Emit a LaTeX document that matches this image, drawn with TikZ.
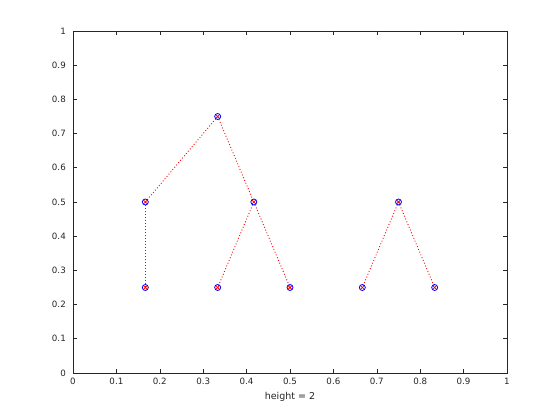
\documentclass[tikz,border=0pt]{standalone}
\usepackage{fontspec}
\setmainfont{DejaVu Sans}
\begin{document}
\begin{tikzpicture}[x=434pt,y=342pt,
  axisline/.style={draw=axgray,line width=0.6pt},
  ticklbl/.style={text=axgray,font=\fontsize{8.7}{10}\selectfont,inner sep=0pt},
  edge/.style={draw=red,line width=0.9pt,dash pattern=on 0.9pt off 2.1pt},
  treenode/.style={circle,draw=blue,line width=0.8pt,minimum size=6pt,inner sep=0pt,
    path picture={\draw[red,line width=0.8pt] ([xshift=-2pt,yshift=-2pt]path picture bounding box.center) -- ([xshift=2pt,yshift=2pt]path picture bounding box.center)
      ([xshift=-2pt,yshift=2pt]path picture bounding box.center) -- ([xshift=2pt,yshift=-2pt]path picture bounding box.center);}}]
\definecolor{axgray}{RGB}{38,38,38}
\useasboundingbox[fill=white] (-73pt,-47pt) rectangle (487pt,373pt);
% axes box
\draw[axisline] (0,0) rectangle (1,1);
% ticks
\foreach \v in {0,0.1,...,1.01} {
  \draw[axisline] (\v,0) -- ++(0,4.3pt);
  \draw[axisline] (\v,1) -- ++(0,-4.3pt);
  \draw[axisline] (0,\v) -- ++(4.3pt,0);
  \draw[axisline] (1,\v) -- ++(-4.3pt,0);
}
\foreach \v/\t in {0/0,0.1/0.1,0.2/0.2,0.3/0.3,0.4/0.4,0.5/0.5,0.6/0.6,0.7/0.7,0.8/0.8,0.9/0.9,1/1} {
  \node[ticklbl,anchor=north] (xl\t) at ([yshift=-5pt]\v,0) {\t};
  \node[ticklbl,anchor=east] (yl\t) at ([xshift=-7pt]0,\v) {\t};
}
\node[ticklbl,font=\fontsize{9.5}{11}\selectfont,anchor=north] (xlabel) at ([yshift=-19pt]0.5,0) {height = 2};
% tree
\coordinate (r1) at (1/3,0.75);
\coordinate (a) at (1/6,0.5);
\coordinate (b) at (5/12,0.5);
\coordinate (r2) at (3/4,0.5);
\coordinate (l1) at (1/6,0.25);
\coordinate (l2) at (1/3,0.25);
\coordinate (l3) at (1/2,0.25);
\coordinate (l4) at (2/3,0.25);
\coordinate (l5) at (5/6,0.25);
\draw[edge] (r1) -- (a);
\draw[edge] (r1) -- (b);
\draw[edge] (a) -- (l1);
\draw[edge] (b) -- (l2);
\draw[edge] (b) -- (l3);
\draw[edge] (r2) -- (l4);
\draw[edge] (r2) -- (l5);
\foreach \n in {r1,a,b,r2,l1,l2,l3,l4,l5} {
  \node[treenode] (m\n) at (\n) {};
}
\end{tikzpicture}
\end{document}
